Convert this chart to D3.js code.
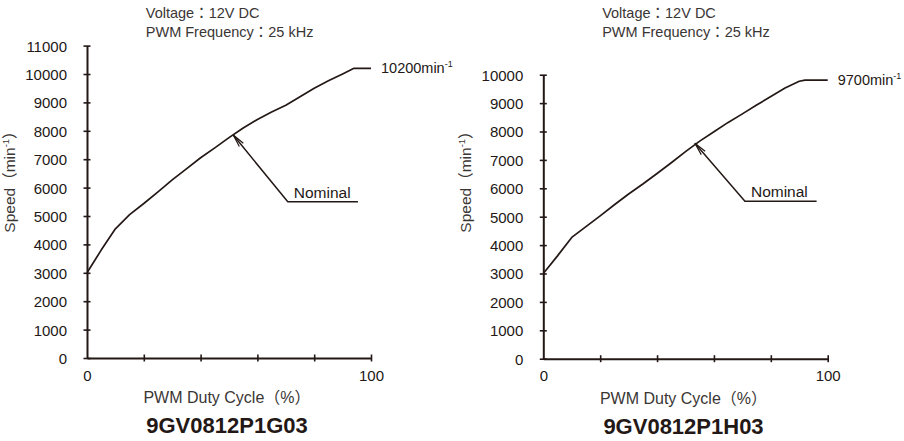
<!DOCTYPE html>
<html><head><meta charset="utf-8">
<script src="https://cdn.jsdelivr.net/npm/d3@7"></script>
<style>
html,body{margin:0;padding:0;background:#fff;}
svg{display:block;font-family:"Liberation Sans","Noto Sans CJK JP",sans-serif;}
</style></head>
<body><svg id="c" width="904" height="441"></svg>
<script>
// ---- data ----
const dutyTicks = [0, 20, 40, 60, 80, 100];
const dutyTickLabels = ["0", "", "", "", "", "100"];
const leftYTicks = [0,1000,2000,3000,4000,5000,6000,7000,8000,9000,10000,11000];
const rightYTicks = [0,1000,2000,3000,4000,5000,6000,7000,8000,9000,10000];
const leftDuty  = [0, 5, 10, 15, 20, 25, 30, 35, 40, 45, 50, 55, 60, 65, 70, 75, 80, 85, 90, 94, 100];
const leftSpeed = [3000,3800,4550,5050,5440,5850,6270,6660,7050,7400,7760,8100,8400,8660,8900,9200,9500,9760,10000,10200,10200];
const rightDuty  = [0, 5, 10, 15, 20, 25, 30, 35, 40, 45, 50, 55, 60, 65, 70, 75, 80, 85, 90, 92, 100];
const rightSpeed = [3000,3620,4270,4650,5030,5420,5800,6150,6520,6900,7290,7660,7990,8320,8620,8930,9230,9530,9770,9810,9810];
const models = ["9GV0812P1G03", "9GV0812P1H03"];
const maxLabels = ["10200", "9700"];
const conditions = ["Voltage：12V DC", "PWM Frequency：25 kHz"];
const nominalLabel = "Nominal";
const xTitle = "PWM Duty Cycle（%）";

const INK = "#231815";
const GREY = "#3a3634";
const svg = d3.select("#c");

const panels = [
  {x0:87, x1:371, y0:358, yTop:45.6, yMax:11000, yTicks:leftYTicks, duty:leftDuty, speed:leftSpeed,
   model:models[0], maxLabel:maxLabels[0], nom:[51.5,7850], elbow:[70.7,5500], end:95.4},
  {x0:543.3, x1:827.7, y0:358.7, yTop:74.7, yMax:10000, yTicks:rightYTicks, duty:rightDuty, speed:rightSpeed,
   model:models[1], maxLabel:maxLabels[1], nom:[53.3,7585], elbow:[70.9,5540], end:96.1}
];

panels.forEach(p => {
  const x = d3.scaleLinear().domain([0,100]).range([p.x0, p.x1]);
  const y = d3.scaleLinear().domain([0,p.yMax]).range([p.y0, p.yTop]);
  const g = svg.append("g");

  // y axis
  const ya = g.append("g").attr("transform", `translate(${p.x0},0)`)
    .call(d3.axisLeft(y).tickValues(p.yTicks).tickSize(0).tickPadding(20).tickFormat(d3.format("d")));
  ya.select(".domain").attr("stroke", INK).attr("stroke-width", 2);
  ya.selectAll("text").attr("font-size", 15).attr("fill", INK).attr("dy", "0.36em");
  ya.selectAll(".tick").append("line").attr("x1",-3.5).attr("x2",3.5).attr("stroke",INK).attr("stroke-width",1.6);

  // x axis
  const xa = g.append("g").attr("transform", `translate(0,${p.y0})`)
    .call(d3.axisBottom(x).tickValues(dutyTicks).tickSize(0).tickPadding(12)
      .tickFormat((d,i) => dutyTickLabels[i]));
  xa.select(".domain").attr("stroke", INK).attr("stroke-width", 2);
  xa.selectAll("text").attr("font-size", 15).attr("fill", INK);
  xa.selectAll(".tick").filter(d => d>0).append("line").attr("y1",-3.5).attr("y2",3.5).attr("stroke",INK).attr("stroke-width",1.6);

  // curve
  const pts = p.duty.map((d,i)=>[d,p.speed[i]]);
  g.append("path").datum(pts)
    .attr("d", d3.line().x(d=>x(d[0])).y(d=>y(d[1])))
    .attr("fill","none").attr("stroke",INK).attr("stroke-width",1.7).attr("stroke-linejoin","round");

  // max label
  const last = pts[pts.length-1];
  const ml = g.append("text").attr("x", x(last[0])+10).attr("y", y(last[1])+5)
    .attr("font-size", 14.5).attr("fill", INK).text(p.maxLabel + "min");
  ml.append("tspan").attr("font-size", 9).attr("dy", -6).text("-1");

  // nominal annotation
  const tip = [x(p.nom[0]), y(p.nom[1])];
  const elb = [x(p.elbow[0]), y(p.elbow[1])];
  g.append("path").attr("d", `M${x(p.end)},${elb[1]}H${elb[0]}L${tip[0]},${tip[1]}`)
    .attr("fill","none").attr("stroke",INK).attr("stroke-width",1.5);
  const ang = Math.atan2(elb[1]-tip[1], elb[0]-tip[0]);
  const L = 13, a = 0.2;
  const b1 = [tip[0]+L*Math.cos(ang+a), tip[1]+L*Math.sin(ang+a)];
  const b2 = [tip[0]+L*Math.cos(ang-a), tip[1]+L*Math.sin(ang-a)];
  g.append("path").attr("d", `M${b1[0]},${b1[1]}L${tip[0]},${tip[1]}L${b2[0]},${b2[1]}`)
    .attr("fill","none").attr("stroke",INK).attr("stroke-width",1.2);
  g.append("text").attr("x", elb[0]+6).attr("y", elb[1]-4)
    .attr("font-size", 15.5).attr("fill", INK).text(nominalLabel);

  // conditions
  conditions.forEach((t,i) => {
    g.append("text").attr("x", x(20)+2).attr("y", 18 + i*19)
      .attr("font-size", 14.5).attr("fill", GREY).text(t);
  });

  // y title
  const yt = g.append("text").attr("transform", `translate(${p.x0-72},178) rotate(-90)`)
    .attr("text-anchor","middle").attr("font-size",15.5).attr("fill",GREY).text("Speed（min");
  yt.append("tspan").attr("font-size",9.5).attr("dy",-6).text("-1");
  yt.append("tspan").attr("dy",6).text("）");

  // x title & model
  const cx = (p.x0+p.x1)/2 - 2;
  g.append("text").attr("x", cx).attr("y", p.y0+45).attr("text-anchor","middle")
    .attr("font-size",16).attr("fill",GREY).text(xTitle);
  g.append("text").attr("x", cx).attr("y", p.y0+75).attr("text-anchor","middle")
    .attr("font-size",22).attr("font-weight","bold").attr("fill",INK).text(p.model);
});
</script></body></html>
